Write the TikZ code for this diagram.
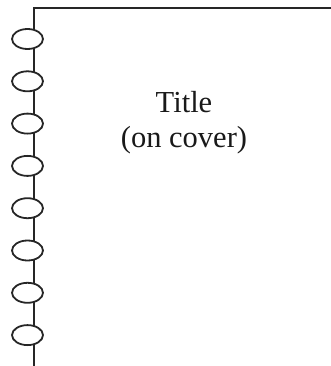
\documentclass[tikz,border=0pt]{standalone}
\usepackage{fontspec}
\setmainfont{Liberation Serif}
\tikzset{
  edgeline/.style={line width=2pt, draw=black!85},
  ring/.style={line width=1.8pt, draw=black!85, fill=white},
  titletext/.style={font=\fontsize{30.5}{35}\selectfont, text=black!90, inner sep=0pt}
}
\begin{document}
\begin{tikzpicture}[x=1pt,y=-1pt]
\useasboundingbox (0,0) rectangle (331,366);
\draw[edgeline] (331,8) -- (34,8) -- (34,366);
\foreach \k in {0,...,7} {
  \filldraw[ring] (27.5,{39+\k*42.3}) ellipse [x radius=15.5, y radius=10];
}
\node[titletext, anchor=base] (title) at (184,113) {Title};
\node[titletext, anchor=base] (cover) at (184,148) {(on cover)};
\end{tikzpicture}
\end{document}
